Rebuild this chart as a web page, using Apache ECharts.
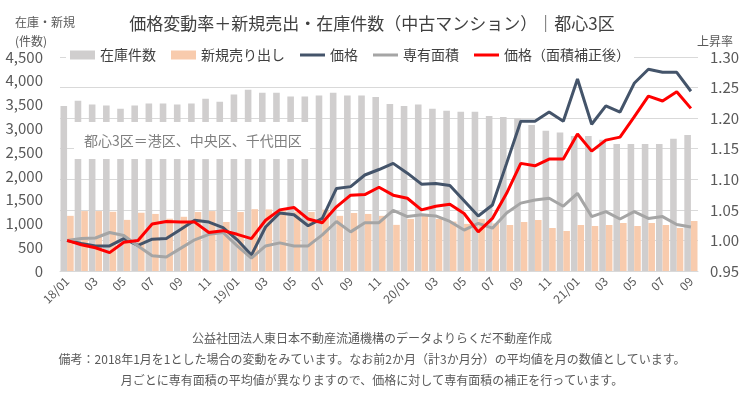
<!DOCTYPE html>
<html><head><meta charset="utf-8">
<script src="https://cdn.jsdelivr.net/npm/echarts@6/dist/echarts.min.js"></script>
<style>html,body{margin:0;padding:0;background:#fff}#c{width:744px;height:394px}</style>
</head><body><div id="c"></div>
<script>
const categories = ["18/01","02","03","04","05","06","07","08","09","10","11","12",
"19/01","02","03","04","05","06","07","08","09","10","11","12",
"20/01","02","03","04","05","06","07","08","09","10","11","12",
"21/01","02","03","04","05","06","07","08","09"];
const stockCount = [3470,3580,3500,3480,3410,3480,3520,3520,3500,3520,3620,3560,
3710,3810,3750,3750,3670,3670,3690,3750,3690,3690,3660,3510,
3470,3500,3410,3370,3350,3350,3260,3240,3210,3070,2950,2910,
2840,2840,2760,2670,2670,2670,2670,2780,2860];
const newListings = [1160,1260,1260,1245,1075,1225,1200,1100,1140,1240,1260,1030,
1240,1300,1295,1280,1250,1240,1290,1160,1220,1200,1160,970,
1095,1160,1095,1040,990,1095,1000,967,1030,1073,904,841,
967,946,967,1009,946,1009,967,904,1051];
const priceIndex = [1.000,0.995,0.991,0.991,1.003,0.992,1.002,1.003,1.018,1.033,1.030,1.021,
1.001,0.976,1.022,1.045,1.042,1.024,1.036,1.085,1.088,1.107,1.116,1.126,
1.110,1.092,1.093,1.090,1.065,1.040,1.058,1.126,1.195,1.195,1.210,1.195,
1.264,1.190,1.220,1.210,1.257,1.280,1.275,1.275,1.244];
const areaIndex = [1.000,1.003,1.004,1.013,1.008,0.991,0.975,0.973,0.987,1.001,1.010,1.013,
0.991,0.971,0.991,0.996,0.991,0.991,1.009,1.031,1.014,1.029,1.029,1.049,
1.039,1.042,1.040,1.031,1.017,1.028,1.020,1.045,1.061,1.066,1.069,1.056,
1.077,1.039,1.047,1.035,1.047,1.036,1.039,1.026,1.022];
const adjPriceIndex = [1.000,0.993,0.988,0.980,0.997,1.000,1.027,1.031,1.030,1.030,1.013,1.016,
1.010,1.003,1.033,1.050,1.054,1.035,1.029,1.055,1.074,1.075,1.087,1.074,
1.069,1.050,1.056,1.059,1.044,1.014,1.036,1.077,1.126,1.122,1.133,1.133,
1.174,1.146,1.164,1.169,1.202,1.236,1.228,1.243,1.216];
const leftTicks = {min:0,max:4500,interval:500};
const rightTicks = {min:0.95,max:1.30,interval:0.05};

const FONT = '"Noto Sans CJK JP","Noto Sans",sans-serif';
const LINE_ICON = 'path://M0,0h25v3h-25z';
const chart = echarts.init(document.getElementById('c'));
chart.setOption({
  animation:false,
  textStyle:{fontFamily:FONT},
  title:{text:'価格変動率＋新規売出・在庫件数（中古マンション）｜都心3区',left:'center',top:10,
    textStyle:{fontSize:17,fontWeight:'normal',color:'#404040',fontFamily:FONT}},
  legend:{left:66,top:46,itemWidth:25,itemHeight:9,itemGap:15,backgroundColor:'#fff',padding:[2,4],
    textStyle:{fontSize:14,color:'#404040',fontFamily:FONT},
    data:[{name:'在庫件数',icon:'rect'},{name:'新規売り出し',icon:'rect'},
      {name:'価格',icon:LINE_ICON},{name:'専有面積',icon:LINE_ICON},{name:'価格（面積補正後）',icon:LINE_ICON}]},
  grid:{left:60,right:46,top:57,bottom:123},
  xAxis:{type:'category',data:categories,
    axisLine:{lineStyle:{color:'#D9D9D9'}},axisTick:{show:false},
    axisLabel:{interval:1,rotate:45,color:'#595959',fontSize:12,margin:8,fontFamily:FONT}},
  yAxis:[
    {type:'value',min:leftTicks.min,max:leftTicks.max,interval:leftTicks.interval,splitLine:{show:false},
      axisLine:{show:false},axisTick:{show:false},
      axisLabel:{color:'#595959',fontSize:15,margin:17,fontFamily:FONT,
        formatter:v=>v.toLocaleString('en-US')}},
    {type:'value',min:rightTicks.min,max:rightTicks.max,interval:rightTicks.interval,
      splitLine:{lineStyle:{color:'#D9D9D9'}},axisLine:{show:false},axisTick:{show:false},
      axisLabel:{color:'#595959',fontSize:15,margin:12,fontFamily:FONT,formatter:v=>v.toFixed(2)}}
  ],
  series:[
    {name:'在庫件数',type:'bar',data:stockCount,itemStyle:{color:'#D0CECE'},barGap:'0%',barCategoryGap:'7%'},
    {name:'新規売り出し',type:'bar',data:newListings,itemStyle:{color:'#F8CBAD'}},
    {name:'価格',type:'line',yAxisIndex:1,data:priceIndex,symbol:'none',lineStyle:{color:'#44546A',width:3},itemStyle:{color:'#44546A'}},
    {name:'専有面積',type:'line',yAxisIndex:1,data:areaIndex,symbol:'none',lineStyle:{color:'#A5A5A5',width:3},itemStyle:{color:'#A5A5A5'}},
    {name:'価格（面積補正後）',type:'line',yAxisIndex:1,data:adjPriceIndex,symbol:'none',lineStyle:{color:'#FF0000',width:3},itemStyle:{color:'#FF0000'}}
  ],
  graphic:[
    {type:'rect',shape:{x:74,y:122,width:236,height:37},style:{fill:'#fff'},z:100},
    {type:'text',x:84,y:141,z:101,style:{text:'都心3区＝港区、中央区、千代田区',fill:'#7F7F7F',font:'14px '+FONT,textVerticalAlign:'middle'}},
    {type:'text',x:15,y:22,style:{text:'在庫・新規',fill:'#595959',font:'12px '+FONT,textVerticalAlign:'middle'}},
    {type:'text',x:15,y:41,style:{text:'(件数)',fill:'#595959',font:'12px '+FONT,textVerticalAlign:'middle'}},
    {type:'text',x:697,y:41,style:{text:'上昇率',fill:'#595959',font:'12px '+FONT,textVerticalAlign:'middle'}},
    {type:'text',x:372,y:338,style:{text:'公益社団法人東日本不動産流通機構のデータよりらくだ不動産作成',fill:'#595959',font:'12px '+FONT,textAlign:'center',textVerticalAlign:'middle'}},
    {type:'text',x:372,y:359,style:{text:'備考：2018年1月を1とした場合の変動をみています。なお前2か月（計3か月分）の平均値を月の数値としています。',fill:'#595959',font:'12px '+FONT,textAlign:'center',textVerticalAlign:'middle'}},
    {type:'text',x:372,y:380,style:{text:'月ごとに専有面積の平均値が異なりますので、価格に対して専有面積の補正を行っています。',fill:'#595959',font:'12px '+FONT,textAlign:'center',textVerticalAlign:'middle'}}
  ]
});
</script></body></html>
